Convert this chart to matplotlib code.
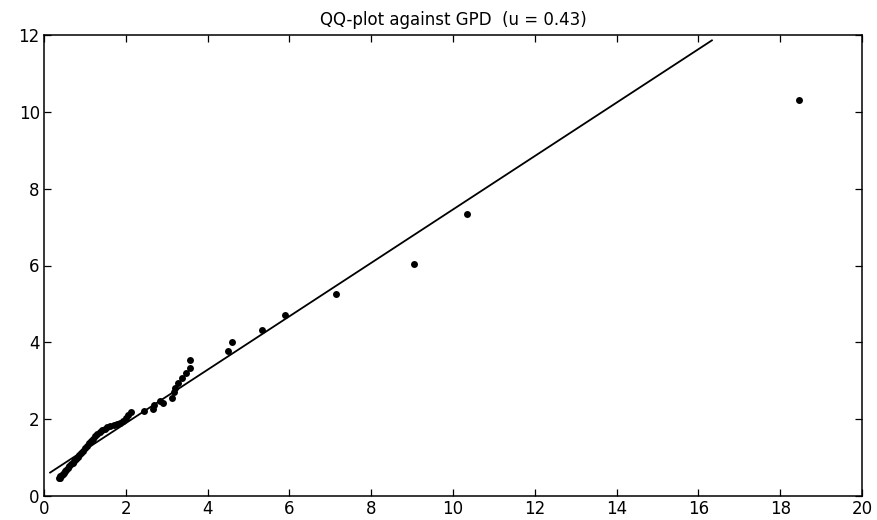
import matplotlib
matplotlib.use("Agg")
import matplotlib.pyplot as plt

# Data: GPD quantiles (x) vs ordered excesses (y)
gpd_quantiles = [0.36, 0.38, 0.40, 0.43, 0.46, 0.49, 0.52, 0.55, 0.58, 0.62,
                 0.66, 0.70, 0.74, 0.78, 0.82, 0.86, 0.90, 0.95, 1.00, 1.05,
                 1.10, 1.15, 1.20, 1.25, 1.30, 1.36, 1.42, 1.48, 1.55, 1.62,
                 1.70, 1.78, 1.86, 1.94, 2.00, 2.06, 2.12, 2.44, 2.66, 2.70,
                 2.83, 2.90, 3.14, 3.17, 3.21, 3.28, 3.37, 3.47, 3.57, 3.57,
                 4.49, 4.59, 5.34, 5.90, 7.15, 9.05, 10.35, 18.45]
empirical = [0.46, 0.48, 0.51, 0.54, 0.57, 0.61, 0.65, 0.68, 0.72, 0.77,
             0.82, 0.87, 0.92, 0.97, 1.02, 1.07, 1.12, 1.18, 1.25, 1.31,
             1.37, 1.43, 1.49, 1.55, 1.61, 1.66, 1.71, 1.75, 1.79, 1.82,
             1.86, 1.88, 1.90, 1.96, 2.04, 2.12, 2.18, 2.21, 2.27, 2.36,
             2.47, 2.43, 2.56, 2.71, 2.80, 2.94, 3.06, 3.19, 3.34, 3.55,
             3.77, 4.01, 4.31, 4.70, 5.27, 6.03, 7.35, 10.30]
line_x = [0.15, 16.33]
line_y = [0.61, 11.86]

title = "QQ-plot against GPD  (u = 0.43)"
xticks = [0, 2, 4, 6, 8, 10, 12, 14, 16, 18, 20]
yticks = [0, 2, 4, 6, 8, 10, 12]

plt.rcParams['font.family'] = ['DejaVu Sans']

fig = plt.figure(figsize=(8.78, 5.20), dpi=100)
ax = fig.add_axes([44/878, 1-496/520, (862-44)/878, (496-35)/520])

ax.plot(line_x, line_y, color='black', linewidth=1.3)
ax.plot(gpd_quantiles, empirical, linestyle='none', marker='o',
        markersize=5.0, color='black', markeredgewidth=0)

ax.set_xlim(0, 20)
ax.set_ylim(0, 12)
ax.set_xticks(xticks)
ax.set_yticks(yticks)
ax.tick_params(direction='in', top=True, right=True, length=5, width=0.9,
               labelsize=12, pad=3)
for s in ax.spines.values():
    s.set_linewidth(1.1)

ax.set_title(title, fontsize=12, pad=7)

fig.savefig("out.png", dpi=100)
